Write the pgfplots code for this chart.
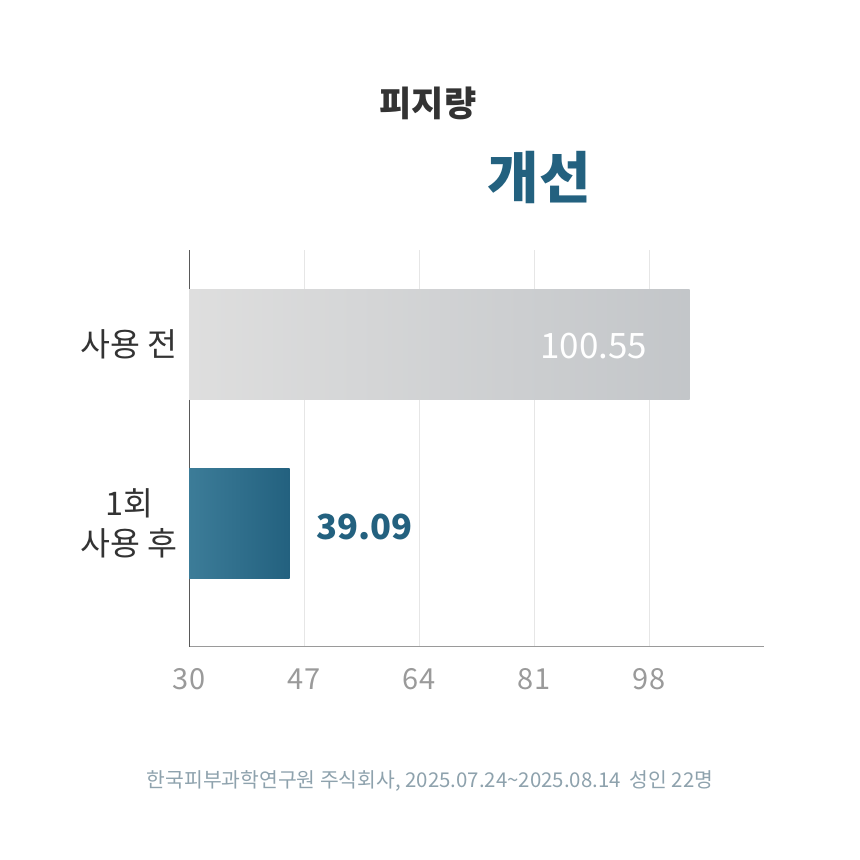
\documentclass[border=0pt]{standalone}
\usepackage{pgfplots}
\pgfplotsset{compat=1.18}
\usepackage{fontspec}
\setmainfont{Noto Sans CJK KR}
\definecolor{tealA}{HTML}{23617F}
\definecolor{tealL}{HTML}{3C7C98}
\definecolor{grayL}{HTML}{DEDEDE}
\definecolor{grayR}{HTML}{C3C6C9}
\definecolor{darktxt}{HTML}{333333}
\definecolor{foot}{HTML}{8EA2AD}
\definecolor{tickc}{HTML}{9A9A9A}
\definecolor{gridc}{HTML}{E6E6E6}
\begin{document}
\begin{tikzpicture}
\path[use as bounding box, fill=white] (0bp,0bp) rectangle (860bp,860bp);
\node[font=\fontsize{35bp}{38bp}\selectfont\bfseries, text=darktxt] at (428bp,757bp) {피지량};
\node[font=\fontsize{56bp}{60bp}\selectfont\bfseries, text=tealA] at (539bp,682bp) {개선};
\node[font=\fontsize{20.4bp}{22bp}\selectfont, text=foot] at (430bp,79bp) {한국피부과학연구원 주식회사, 2025.07.24\textasciitilde 2025.08.14\ \ 성인 22명};
\begin{axis}[
  at={(189bp,213bp)}, anchor=south west,
  width=575bp, height=397bp, scale only axis,
  xmin=30, xmax=115, ymin=-0.69, ymax=1.528,
  xtick={30,47,64,81,98}, ytick={0,1},
  yticklabels={{1회\\사용 후},{사용 전}},
  /pgf/number format/assume math mode=true,
  axis x line*=bottom, axis y line*=left,
  x axis line style={-, draw=tickc, line width=1bp},
  y axis line style={-, draw=black!65, line width=1bp},
  major tick length=0pt,
  xmajorgrids, major grid style={draw=gridc, line width=1bp},
  xticklabel style={font=\fontsize{29bp}{30bp}\selectfont, text=tickc, yshift=-18bp},
  yticklabel style={font=\fontsize{32.5bp}{40bp}\selectfont, text=darktxt, align=center, xshift=-8bp},
  clip=false,
]
\addplot[xbar, bar width=0.62, bar shift=0pt, draw=none, left color=grayL, right color=grayR] coordinates {(104,1)};
\addplot[xbar, bar width=0.62, bar shift=0pt, draw=none, left color=tealL, right color=tealA] coordinates {(44.86,0)};
\node[anchor=east, font=\fontsize{35bp}{36bp}\selectfont, text=white, xshift=-39bp, yshift=-2bp] at (axis cs:104,1) {100.55};
\node[anchor=west, font=\fontsize{34.5bp}{38bp}\selectfont\bfseries, text=tealA, xshift=23bp, yshift=-3bp] at (axis cs:44.86,0) {39.09};
\end{axis}
\end{tikzpicture}
\end{document}
